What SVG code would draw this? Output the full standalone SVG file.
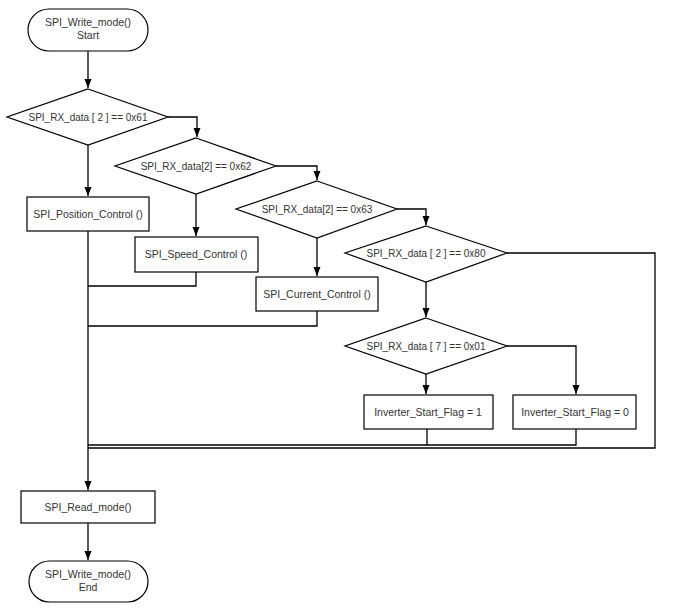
<svg xmlns="http://www.w3.org/2000/svg" width="676" height="611" viewBox="0 0 676 611">
<style>
.n{fill:#fff;stroke:#000;stroke-width:1.2}
.t{font-family:"Liberation Sans",Arial,sans-serif;font-size:10.5px;fill:#333;text-anchor:middle}
.d{font-size:10px}
.c{fill:none;stroke:#000;stroke-width:1.3}
</style>
<defs>
<marker id="ah" markerUnits="userSpaceOnUse" markerWidth="10" markerHeight="8" refX="9" refY="3.5" orient="auto">
<path d="M0,0 L9,3.5 L0,7 z" fill="#000"/>
</marker>
</defs>
<rect width="676" height="611" fill="#fff"/>
<g id="connectors">
<path class="c" d="M88,51 V88" marker-end="url(#ah)"/>
<path class="c" d="M168,117 H197 V137" marker-end="url(#ah)"/>
<path class="c" d="M88,145 V196" marker-end="url(#ah)"/>
<path class="c" d="M276,166 H317 V180" marker-end="url(#ah)"/>
<path class="c" d="M196,194 V236" marker-end="url(#ah)"/>
<path class="c" d="M397,209 H426 V225" marker-end="url(#ah)"/>
<path class="c" d="M317,238 V276" marker-end="url(#ah)"/>
<path class="c" d="M426,282 V317" marker-end="url(#ah)"/>
<path class="c" d="M426,374 V394" marker-end="url(#ah)"/>
<path class="c" d="M507,346 H576 V394" marker-end="url(#ah)"/>
<path class="c" d="M196,272 V286 H88"/>
<path class="c" d="M317,311 V326 H88"/>
<path class="c" d="M427,429 V445"/>
<path class="c" d="M576,429 V445 H88"/>
<path class="c" d="M507,253 H655 V448 H88"/>
<path class="c" d="M88,231 V490" marker-end="url(#ah)"/>
<path class="c" d="M88,523 V560" marker-end="url(#ah)"/>
</g>
<g id="start">
<rect class="n" x="28" y="9" width="120" height="42" rx="21"/>
<text class="t" x="88" y="26">SPI_Write_mode()</text>
<text class="t" x="88" y="39">Start</text>
</g>
<g id="d1">
<polygon class="n" points="88,89 168,117 88,145 7,117"/>
<text class="t d" x="88" y="121">SPI_RX_data [ 2 ] == 0x61</text>
</g>
<g id="d2">
<polygon class="n" points="196,138 276,166 196,194 115,166"/>
<text class="t d" x="196" y="170">SPI_RX_data[2] == 0x62</text>
</g>
<g id="d3">
<polygon class="n" points="317,181 397,209 317,238 236,209"/>
<text class="t d" x="317" y="213">SPI_RX_data[2] == 0x63</text>
</g>
<g id="d4">
<polygon class="n" points="426,226 507,253 426,282 345,253"/>
<text class="t d" x="426" y="257">SPI_RX_data [ 2 ] == 0x80</text>
</g>
<g id="d5">
<polygon class="n" points="426,318 507,346 426,374 345,346"/>
<text class="t d" x="426" y="350">SPI_RX_data [ 7 ] == 0x01</text>
</g>
<g id="position">
<rect class="n" x="27" y="197" width="122" height="34"/>
<text class="t" x="88" y="218">SPI_Position_Control ()</text>
</g>
<g id="speed">
<rect class="n" x="135" y="237" width="123" height="35"/>
<text class="t" x="196" y="258">SPI_Speed_Control ()</text>
</g>
<g id="current">
<rect class="n" x="256" y="277" width="122" height="34"/>
<text class="t" x="317" y="298">SPI_Current_Control ()</text>
</g>
<g id="flag1">
<rect class="n" x="364" y="395" width="129" height="34"/>
<text class="t" x="428" y="416">Inverter_Start_Flag = 1</text>
</g>
<g id="flag0">
<rect class="n" x="513" y="395" width="123" height="34"/>
<text class="t" x="575" y="416">Inverter_Start_Flag = 0</text>
</g>
<g id="read">
<rect class="n" x="21" y="491" width="134" height="32"/>
<text class="t" x="88" y="511">SPI_Read_mode()</text>
</g>
<g id="end">
<rect class="n" x="29" y="561" width="119" height="41" rx="20.5"/>
<text class="t" x="88" y="578">SPI_Write_mode()</text>
<text class="t" x="88" y="591">End</text>
</g>
</svg>
